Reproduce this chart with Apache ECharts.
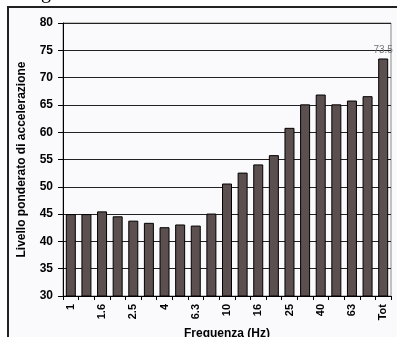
<!DOCTYPE html>
<html>
<head>
<meta charset="utf-8">
<script src="https://cdn.jsdelivr.net/npm/echarts@6/dist/echarts.min.js"></script>
<style>
  html, body { margin: 0; padding: 0; background: #fff; }
  #chart { width: 397px; height: 337px; }
</style>
</head>
<body>
<div id="chart"></div>
<script>
// bande di terzo d'ottava + totale
var frequenze = ['1', '1.25', '1.6', '2', '2.5', '3.15', '4', '5', '6.3', '8', '10',
  '12.5', '16', '20', '25', '31.5', '40', '50', '63', '80', 'Tot'];
var livelli = [45, 45, 45.5, 44.6, 43.8, 43.4, 42.6, 43.1, 42.9, 45.1, 50.6,
  52.6, 54.1, 55.8, 60.8, 65.1, 66.9, 65.1, 65.8, 66.6, 73.5];

var chart = echarts.init(document.getElementById('chart'), null, { renderer: 'canvas' });

var option = {
  backgroundColor: '#ffffff',
  animation: false,
  graphic: [
    {
      type: 'rect', z: -10,
      shape: { x: 8, y: 7, width: 400, height: 340 },
      style: { fill: '#fafafc', stroke: '#222', lineWidth: 2 }
    },
    {
      type: 'text', left: 41, top: -17, z: -5,
      style: { text: 'g', font: '20px "Liberation Serif", serif', fill: '#000' }
    }
  ],
  grid: {
    left: 63, right: 6, top: 23, bottom: 41,
    outerBoundsMode: 'none',
    containLabel: false,
    show: true,
    backgroundColor: 'transparent',
    borderColor: '#888',
    borderWidth: 1
  },
  xAxis: {
    type: 'category',
    data: frequenze,
    name: 'Frequenza (Hz)',
    nameLocation: 'middle',
    nameGap: 29,
    nameTextStyle: { fontFamily: 'Liberation Sans, Arial', fontWeight: 'bold', fontSize: 12, color: '#000' },
    axisLine: { lineStyle: { color: '#000', width: 1 } },
    axisTick: { show: true, interval: 0, length: 4, lineStyle: { color: '#000' } },
    axisLabel: {
      interval: 1,
      rotate: 90,
      margin: 8,
      fontFamily: 'Liberation Sans, Arial',
      fontWeight: 'bold',
      fontSize: 11,
      color: '#000'
    }
  },
  yAxis: {
    type: 'value',
    min: 30,
    max: 80,
    interval: 5,
    name: 'Livello ponderato di accelerazione',
    nameLocation: 'middle',
    nameGap: 35,
    nameTextStyle: { fontFamily: 'Liberation Sans, Arial', fontWeight: 'bold', fontSize: 12, color: '#000' },
    axisLine: { show: true, lineStyle: { color: '#000', width: 1 } },
    axisTick: { show: true, length: 5, lineStyle: { color: '#000' } },
    axisLabel: {
      margin: 10,
      fontFamily: 'Liberation Sans, Arial',
      fontWeight: 'bold',
      fontSize: 12,
      color: '#000'
    },
    splitLine: { show: true, lineStyle: { color: '#222', width: 1 } }
  },
  series: [{
    type: 'bar',
    data: livelli.map(function (v, i) {
      var d = { value: v };
      if (frequenze[i] === 'Tot') {
        d.label = { show: true, position: 'top', distance: 3, color: '#777', fontSize: 10, fontFamily: 'Liberation Sans, Arial' };
      }
      return d;
    }),
    barWidth: 10,
    itemStyle: { color: '#5b4f4f', borderColor: '#000', borderWidth: 1 }
  }]
};

chart.setOption(option);
</script>
</body>
</html>
